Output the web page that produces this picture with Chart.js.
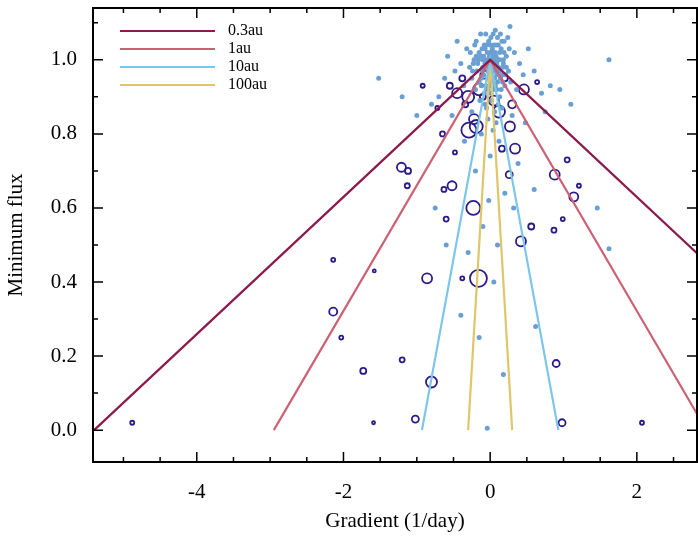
<!DOCTYPE html>
<html>
<head>
<meta charset="utf-8">
<script src="https://cdn.jsdelivr.net/npm/chart.js@4"></script>
<style>
  html, body { margin: 0; padding: 0; background: #fff; }
  #wrap { width: 698px; height: 538px; }
</style>
</head>
<body>
<div id="wrap"><canvas id="c" width="698" height="538"></canvas></div>
<script>
// model lines: name, colour, x where flux reaches 0 (symmetric)
const MODEL_NAMES = ['0.3au', '1au', '10au', '100au'];
const MODEL_COLORS = ['#8b1a4d', '#cc6174', '#7cc6ea', '#e0c66a'];
const MODEL_XZERO = [5.4, 2.95, 0.93, 0.3];

// dark events: [gradient, min flux, radius]
const EVENTS = [
    [-4.88, 0.02, 2], [-2.14, 0.46, 2], [-2.14, 0.32, 4], [-2.03, 0.25, 2],
    [-1.58, 0.43, 1.5], [-1.73, 0.16, 3], [-1.20, 0.19, 2.5], [-1.59, 0.02, 1.5],
    [-1.21, 0.71, 4.5], [-1.12, 0.70, 3], [-1.13, 0.66, 2.5], [-0.80, 0.13, 5.5],
    [-1.02, 0.03, 3.5], [-0.86, 0.41, 5], [-0.16, 0.41, 8.5], [-0.23, 0.60, 7],
    [-0.52, 0.66, 4.5], [-0.63, 0.65, 2.5], [-0.60, 0.57, 2.5], [0.42, 0.51, 5],
    [-0.38, 0.41, 2], [-0.29, 0.81, 7.5], [-0.19, 0.82, 6.5], [-0.22, 0.84, 5],
    [0.27, 0.82, 5], [0.34, 0.76, 5], [0.26, 0.69, 3.5], [0.56, 0.55, 3],
    [0.90, 0.18, 3.5], [0.98, 0.02, 3.5], [2.07, 0.02, 2], [0.88, 0.69, 5],
    [1.14, 0.63, 4.5], [1.05, 0.73, 2.5], [1.21, 0.66, 2], [0.99, 0.57, 2],
    [0.87, 0.54, 2.5], [0.46, 0.92, 5], [0.12, 0.86, 6], [-0.45, 0.91, 5],
    [-0.15, 0.92, 6], [-0.38, 0.95, 3], [-0.34, 0.88, 3], [-0.65, 0.80, 2.5],
    [-0.72, 0.87, 2], [-0.30, 0.90, 6], [0.05, 0.89, 5], [-0.08, 0.96, 4],
    [0.20, 0.95, 3], [-0.55, 0.93, 3], [0.64, 0.94, 2], [-0.92, 0.93, 2],
    [0.16, 0.76, 3], [-0.48, 0.75, 2], [0.30, 0.88, 4], [-0.10, 0.90, 3]
];

// small light-blue points: [gradient, min flux]
const POINTS = [
    [-0.05, 1.00], [0.02, 0.99], [0.08, 1.01], [-0.10, 0.98], [0.12, 0.97], [0.00, 0.96],
    [-0.15, 1.02], [0.15, 1.03], [0.05, 1.04], [-0.02, 1.05], [0.10, 1.06], [-0.08, 1.04],
    [0.18, 0.99], [-0.18, 0.97], [0.22, 1.01], [-0.22, 1.00], [0.03, 0.94], [-0.06, 0.93],
    [0.09, 0.92], [-0.12, 0.95], [0.14, 0.95], [0.25, 0.97], [-0.25, 0.95], [0.00, 1.02],
    [0.06, 0.98], [-0.03, 0.97], [0.04, 1.00], [-0.09, 1.01], [0.11, 1.00], [0.20, 0.93],
    [-0.20, 0.92], [0.28, 0.94], [-0.28, 0.98], [0.01, 0.91], [0.13, 0.90], [-0.14, 0.89],
    [0.19, 1.05], [-0.21, 1.04], [0.24, 1.06], [-0.32, 1.03], [0.33, 1.02], [0.40, 0.99],
    [-0.40, 0.99], [0.36, 0.92], [-0.36, 0.93], [0.45, 0.96], [-0.48, 0.97], [0.07, 1.08],
    [-0.13, 1.07], [0.27, 1.09], [-0.45, 1.05], [0.52, 1.03], [-0.58, 1.01], [0.60, 0.97],
    [-0.62, 0.95], [0.70, 0.91], [-0.70, 0.90], [0.82, 0.93], [-0.80, 0.88], [0.95, 0.92],
    [-1.00, 0.85], [0.75, 0.86], [-0.52, 0.85], [0.48, 0.83], [-0.35, 0.78], [0.38, 0.72],
    [-0.20, 0.70], [0.20, 0.64], [-0.10, 0.55], [0.10, 0.50], [-0.30, 0.48], [0.32, 0.60],
    [-0.02, 0.62], [0.05, 0.40], [-0.40, 0.31], [-0.04, 0.005], [-1.52, 0.95], [1.62, 1.00],
    [1.62, 0.49], [1.46, 0.60], [-0.60, 0.50], [0.62, 0.28], [-0.15, 0.25], [0.18, 0.15],
    [0.60, 0.65], [-0.75, 0.60], [1.10, 0.88], [-1.20, 0.90], [0.30, 0.85], [-0.25, 0.86],
    [0.16, 0.87], [-0.05, 0.87], [0.08, 0.83], [-0.12, 0.80], [0.12, 0.78], [0.00, 0.74],
    [-0.07, 1.03], [0.03, 1.03], [0.13, 1.02], [-0.17, 0.99], [0.16, 0.96], [-0.01, 0.99],
    [-0.04, 0.95], [0.06, 0.95], [0.01, 0.97], [-0.11, 0.97], [0.09, 0.96], [0.17, 0.98],
    [-0.16, 1.00], [0.07, 1.02], [-0.04, 1.02], [0.02, 1.01], [0.11, 1.04], [-0.11, 1.03],
    [0.04, 0.92], [-0.08, 0.91], [0.10, 0.94], [-0.01, 0.93], [0.15, 0.92], [-0.15, 0.94],
    [0.21, 0.96], [-0.24, 0.97], [0.19, 1.02], [-0.19, 1.05], [0.01, 1.06], [0.14, 1.07],
    [-0.02, 0.98], [0.05, 0.97], [-0.07, 0.99], [0.09, 0.99], [-0.13, 1.01], [0.13, 1.00],
    [0.00, 1.00], [0.03, 1.02], [-0.05, 1.04], [0.08, 1.04], [-0.09, 0.96], [0.11, 0.98],
    [0.00, 0.94], [-0.03, 0.92], [0.07, 0.93], [-0.12, 0.93], [0.17, 0.94], [0.02, 0.89],
    [-0.07, 0.88], [0.11, 0.88], [0.06, 0.86], [-0.03, 0.84], [0.04, 0.81], [0.18, 1.00],
    [-0.19, 1.01], [0.22, 0.98], [-0.23, 0.99], [0.26, 1.03], [-0.27, 1.02], [0.04, 1.07],
    [-0.06, 1.07], [0.16, 1.05], [0.00, 1.04], [-0.01, 1.01], [0.06, 1.00], [-0.10, 1.00]
];

const X_TICKS = [-4, -2, 0, 2];
const Y_TICKS = [0.0, 0.2, 0.4, 0.6, 0.8, 1.0];

const datasets = [];
MODEL_NAMES.forEach((name, i) => {
    const z = MODEL_XZERO[i];
    datasets.push({
        type: 'line', label: name,
        data: [{ x: -z, y: 0 }, { x: 0, y: 1 }, { x: z, y: 0 }],
        borderColor: MODEL_COLORS[i], borderWidth: 2.2, pointRadius: 0, tension: 0
    });
});
datasets.push({
    type: 'scatter', label: 'pts',
    data: POINTS.map(p => ({ x: p[0], y: p[1] })),
    backgroundColor: '#6a9fd3', borderWidth: 0, pointRadius: 2.5
});
datasets.push({
    type: 'scatter', label: 'events',
    data: EVENTS.map(p => ({ x: p[0], y: p[1] })),
    pointRadius: EVENTS.map(p => p[2]),
    backgroundColor: 'rgba(0,0,0,0)', borderColor: '#2e1a86', borderWidth: 1.8
});

const frame = {
    id: 'frame',
    afterDraw(chart) {
        const { ctx, chartArea: a, scales: { x, y } } = chart;
        ctx.save();
        ctx.strokeStyle = '#000';
        ctx.lineWidth = 2;
        ctx.strokeRect(a.left, a.top, a.right - a.left, a.bottom - a.top);
        ctx.lineWidth = 1.5;
        // x ticks (major and minor), inward on bottom and top
        for (let v = -5; v <= 2.8; v += 0.5) {
            const px = x.getPixelForValue(v);
            if (px < a.left || px > a.right) continue;
            const len = Number.isInteger(v / 2) ? 10 : 5;
            ctx.beginPath();
            ctx.moveTo(px, a.bottom); ctx.lineTo(px, a.bottom - len);
            ctx.moveTo(px, a.top); ctx.lineTo(px, a.top + len);
            ctx.stroke();
        }
        for (let k = 0; k <= 11; k++) {
            const v = k * 0.1;
            const py = y.getPixelForValue(v);
            const len = k % 2 === 0 ? 10 : 5;
            ctx.beginPath();
            ctx.moveTo(a.left, py); ctx.lineTo(a.left + len, py);
            ctx.moveTo(a.right, py); ctx.lineTo(a.right - len, py);
            ctx.stroke();
        }
        // legend
        ctx.font = '16px "Liberation Serif", serif';
        ctx.textBaseline = 'middle';
        ctx.fillStyle = '#000';
        MODEL_NAMES.forEach((name, i) => {
            const ly = a.top + 23 + i * 18;
            ctx.strokeStyle = MODEL_COLORS[i];
            ctx.lineWidth = 2.2;
            ctx.beginPath();
            ctx.moveTo(a.left + 27, ly); ctx.lineTo(a.left + 122, ly);
            ctx.stroke();
            ctx.fillText(name, a.left + 135, ly);
        });
        ctx.restore();
    }
};

new Chart(document.getElementById('c'), {
    data: { datasets },
    options: {
        responsive: false, animation: false,
        layout: { autoPadding: false, padding: { top: 8, right: 1, left: 0, bottom: 0 } },
        plugins: { legend: { display: false }, tooltip: { enabled: false } },
        scales: {
            x: {
                type: 'linear', min: -5.415, max: 2.82,
                afterFit(s) { s.height = 76; s.paddingLeft = 0; s.paddingRight = 0; },
                afterBuildTicks(s) { s.ticks = X_TICKS.map(v => ({ value: v })); },
                grid: { display: false }, border: { display: false },
                ticks: { color: '#000', font: { family: 'Liberation Serif', size: 21 }, padding: 10 },
                title: { display: true, text: 'Gradient (1/day)', color: '#000',
                         font: { family: 'Liberation Serif', size: 21 }, padding: { top: 0 } }
            },
            y: {
                type: 'linear', min: -0.086, max: 1.14,
                afterFit(s) { s.width = 93; s.paddingTop = 0; s.paddingBottom = 0; },
                afterBuildTicks(s) { s.ticks = Y_TICKS.map(v => ({ value: v })); },
                grid: { display: false }, border: { display: false },
                ticks: { color: '#000', font: { family: 'Liberation Serif', size: 21 }, padding: 8,
                         callback: v => v.toFixed(1) },
                title: { display: true, text: 'Minimum flux', color: '#000',
                         font: { family: 'Liberation Serif', size: 21 }, padding: { bottom: 2 } }
            }
        }
    },
    plugins: [frame]
});
</script>
</body>
</html>
